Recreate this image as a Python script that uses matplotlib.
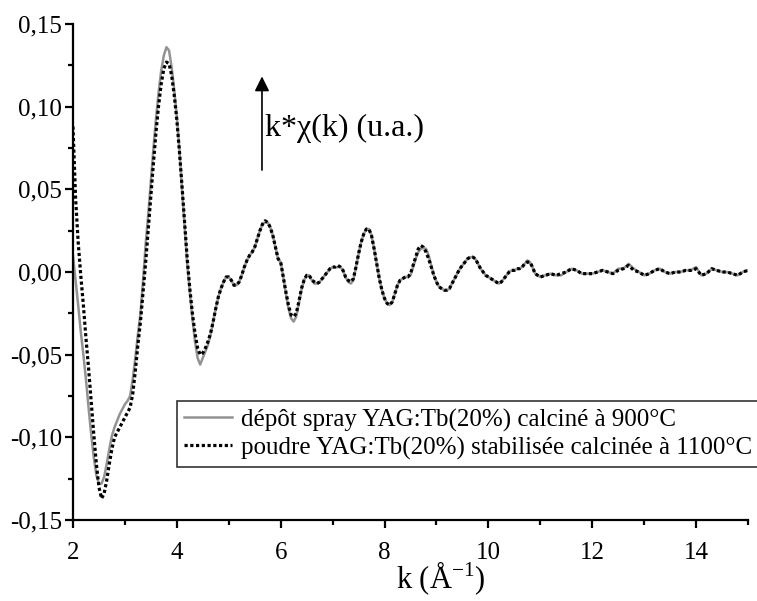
import numpy as np
import matplotlib
matplotlib.use("Agg")
import matplotlib.pyplot as plt
from matplotlib.ticker import FuncFormatter, MultipleLocator

plt.rcParams['font.family'] = ['Liberation Serif', 'DejaVu Serif']
plt.rcParams['mathtext.fontset'] = 'custom'
plt.rcParams['mathtext.rm'] = 'Liberation Serif'

# k grid (A^-1): fine step up to 11, coarser on the flat tail
k = np.round(np.concatenate([np.arange(2.0, 10.99, 0.05), np.arange(11.0, 15.01, 0.1)]), 2)

# depot spray YAG:Tb(20%) calcine a 900 C  (grey solid)
spray = [
    # 2.00 - 2.95
    0.010, -0.005, -0.020, -0.036, -0.050, -0.065, -0.082, -0.098, -0.112, -0.123,
    -0.128, -0.128, -0.124, -0.116, -0.107, -0.099, -0.094, -0.090, -0.086, -0.083,
    # 3.00 - 3.95
    -0.080, -0.078, -0.075, -0.065, -0.052, -0.038, -0.025, -0.005, 0.017, 0.035,
    0.055, 0.075, 0.093, 0.109, 0.122, 0.131, 0.136, 0.134, 0.124, 0.110,
    # 4.00 - 4.95
    0.094, 0.074, 0.050, 0.028, 0.005, -0.012, -0.028, -0.042, -0.052, -0.056,
    -0.052, -0.048, -0.044, -0.038, -0.030, -0.022, -0.015, -0.010, -0.006, -0.003,
    # 5.00 - 5.95
    -0.003, -0.005, -0.008, -0.008, -0.006, -0.002, 0.003, 0.007, 0.010, 0.012,
    0.015, 0.020, 0.025, 0.029, 0.030, 0.030, 0.027, 0.022, 0.015, 0.008,
    # 6.00 - 6.95
    0.006, -0.003, -0.013, -0.022, -0.028, -0.030, -0.027, -0.019, -0.011, -0.005,
    -0.002, -0.002, -0.005, -0.007, -0.007, -0.006, -0.004, -0.002, 0.000, 0.002,
    # 7.00 - 7.95
    0.003, 0.003, 0.003, 0.003, 0.001, -0.003, -0.006, -0.007, -0.005, 0.003,
    0.011, 0.018, 0.023, 0.026, 0.026, 0.022, 0.014, 0.005, -0.004, -0.011,
    # 8.00 - 8.95
    -0.016, -0.019, -0.020, -0.018, -0.013, -0.008, -0.005, -0.004, -0.003, -0.003,
    -0.002, 0.003, 0.008, 0.012, 0.014, 0.0145, 0.014, 0.010, 0.004, -0.002,
    # 9.00 - 9.95
    -0.006, -0.009, -0.010, -0.011, -0.011, -0.010, -0.007, -0.004, -0.001, 0.002,
    0.004, 0.006, 0.008, 0.009, 0.009, 0.008, 0.005, 0.002, 0.000, -0.002,
    # 10.00 - 10.95
    -0.003, -0.004, -0.005, -0.006, -0.007, -0.006, -0.004, -0.002, 0.000, 0.001,
    0.001, 0.002, 0.002, 0.003, 0.005, 0.007, 0.006, 0.003, -0.001, -0.002,
    # 11.0 - 15.0
    -0.003, -0.002, -0.001, -0.002, -0.002, 0.000, 0.002, 0.001, -0.001, -0.001,
    -0.001, 0.000, 0.001, 0.000, -0.001, 0.002, 0.002, 0.005, 0.002, 0.000,
    -0.002, -0.001, 0.001, 0.002, 0.000, -0.001, 0.000, 0.000, 0.001, 0.001,
    0.003, -0.002, -0.001, 0.002, 0.001, 0.000, 0.000, -0.001, -0.002, 0.000,
    0.001,
]

# poudre YAG:Tb(20%) stabilisee calcinee a 1100 C  (black dotted)
poudre = [
    # 2.00 - 2.95
    0.088, 0.045, 0.018, -0.002, -0.020, -0.040, -0.058, -0.078, -0.098, -0.116,
    -0.130, -0.137, -0.134, -0.126, -0.116, -0.107, -0.100, -0.097, -0.094, -0.091,
    # 3.00 - 3.95
    -0.088, -0.085, -0.082, -0.074, -0.060, -0.044, -0.030, -0.012, 0.006, 0.026,
    0.046, 0.066, 0.085, 0.101, 0.114, 0.123, 0.127, 0.126, 0.119, 0.107,
    # 4.00 - 4.95
    0.092, 0.073, 0.052, 0.030, 0.008, -0.010, -0.025, -0.037, -0.046, -0.050,
    -0.049, -0.046, -0.042, -0.037, -0.030, -0.022, -0.015, -0.010, -0.006, -0.003,
    # 5.00 - 5.95
    -0.003, -0.005, -0.008, -0.008, -0.006, -0.002, 0.003, 0.007, 0.010, 0.012,
    0.015, 0.020, 0.025, 0.029, 0.031, 0.030, 0.027, 0.022, 0.015, 0.008,
    # 6.00 - 6.95
    0.006, -0.003, -0.012, -0.020, -0.026, -0.027, -0.025, -0.018, -0.010, -0.005,
    -0.002, -0.002, -0.005, -0.006, -0.007, -0.006, -0.004, -0.002, 0.000, 0.002,
    # 7.00 - 7.95
    0.003, 0.003, 0.004, 0.003, 0.001, -0.003, -0.005, -0.006, -0.004, 0.003,
    0.011, 0.018, 0.023, 0.026, 0.026, 0.022, 0.014, 0.005, -0.004, -0.011,
    # 8.00 - 8.95
    -0.016, -0.019, -0.020, -0.018, -0.013, -0.008, -0.005, -0.004, -0.003, -0.003,
    -0.001, 0.004, 0.009, 0.014, 0.016, 0.015, 0.012, 0.008, 0.003, -0.002,
    # 9.00 - 9.95
    -0.006, -0.009, -0.010, -0.011, -0.011, -0.010, -0.007, -0.004, -0.001, 0.002,
    0.004, 0.006, 0.008, 0.009, 0.009, 0.008, 0.005, 0.002, 0.000, -0.002,
    # 10.00 - 10.95
    -0.003, -0.004, -0.005, -0.006, -0.007, -0.006, -0.004, -0.002, 0.000, 0.001,
    0.001, 0.002, 0.002, 0.003, 0.005, 0.006, 0.006, 0.003, -0.001, -0.002,
    # 11.0 - 15.0
    -0.003, -0.002, -0.001, -0.002, -0.001, 0.000, 0.002, 0.001, -0.001, -0.001,
    -0.001, 0.000, 0.001, 0.000, -0.001, 0.001, 0.002, 0.004, 0.001, 0.000,
    -0.002, -0.001, 0.001, 0.002, 0.000, -0.001, 0.000, 0.000, 0.001, 0.001,
    0.002, -0.002, -0.001, 0.002, 0.001, 0.000, 0.000, -0.001, -0.002, 0.000,
    0.001,
]

label_spray = "dépôt spray YAG:Tb(20%) calciné à 900°C"
label_poudre = "poudre YAG:Tb(20%) stabilisée calcinée à 1100°C"

fig = plt.figure(figsize=(7.57, 6.01), dpi=100)
ax = fig.add_axes([0.0964, 0.1348, 0.8917, 0.8252])

ax.plot(k, spray, color='#939393', lw=1.8, label=label_spray)
ax.plot(k, poudre, color='black', lw=2.3, linestyle=(0, (1, 0.8)), label=label_poudre)

ax.set_xlim(2, 15)
ax.set_ylim(-0.15, 0.15)
ax.xaxis.set_major_locator(MultipleLocator(2))
ax.xaxis.set_minor_locator(MultipleLocator(1))
ax.yaxis.set_major_locator(MultipleLocator(0.05))
ax.yaxis.set_minor_locator(MultipleLocator(0.025))
ax.yaxis.set_major_formatter(FuncFormatter(lambda v, p: ("%.2f" % v).replace('.', ',').replace('-0,00', '0,00')))
ax.xaxis.set_major_formatter(FuncFormatter(lambda v, p: "%d" % v))

for s in ['top', 'right']:
    ax.spines[s].set_visible(False)
for s in ['left', 'bottom']:
    ax.spines[s].set_linewidth(1.6)

ax.tick_params(which='major', direction='out', length=6, width=1.6, labelsize=18, pad=2)
ax.tick_params(which='minor', direction='out', length=3.5, width=1.6)
ax.tick_params(axis='x', which='major', pad=10)

ax.set_xlabel("k (Å$^{\\mathregular{-1}}$)", fontsize=22)
ax.xaxis.set_label_coords(0.545, -0.08)

# y-axis label drawn as an arrow with text
ax.annotate("", xy=(5.64, 0.120), xytext=(5.64, 0.060),
            arrowprops=dict(arrowstyle='-|>', color='black', lw=1.2, mutation_scale=22))
ax.text(5.70, 0.087, "k*χ(k) (u.a.)", fontsize=23, va='center', ha='left')

leg = ax.legend(loc='upper left', bbox_to_anchor=(0.154, 0.240), borderaxespad=0,
                fontsize=18, frameon=True, fancybox=False, handlelength=1.9,
                handletextpad=0.35, labelspacing=0.2, borderpad=0.3)
leg.get_frame().set_edgecolor('black')
leg.get_frame().set_linewidth(1.2)

fig.savefig("out.png", dpi=100)
